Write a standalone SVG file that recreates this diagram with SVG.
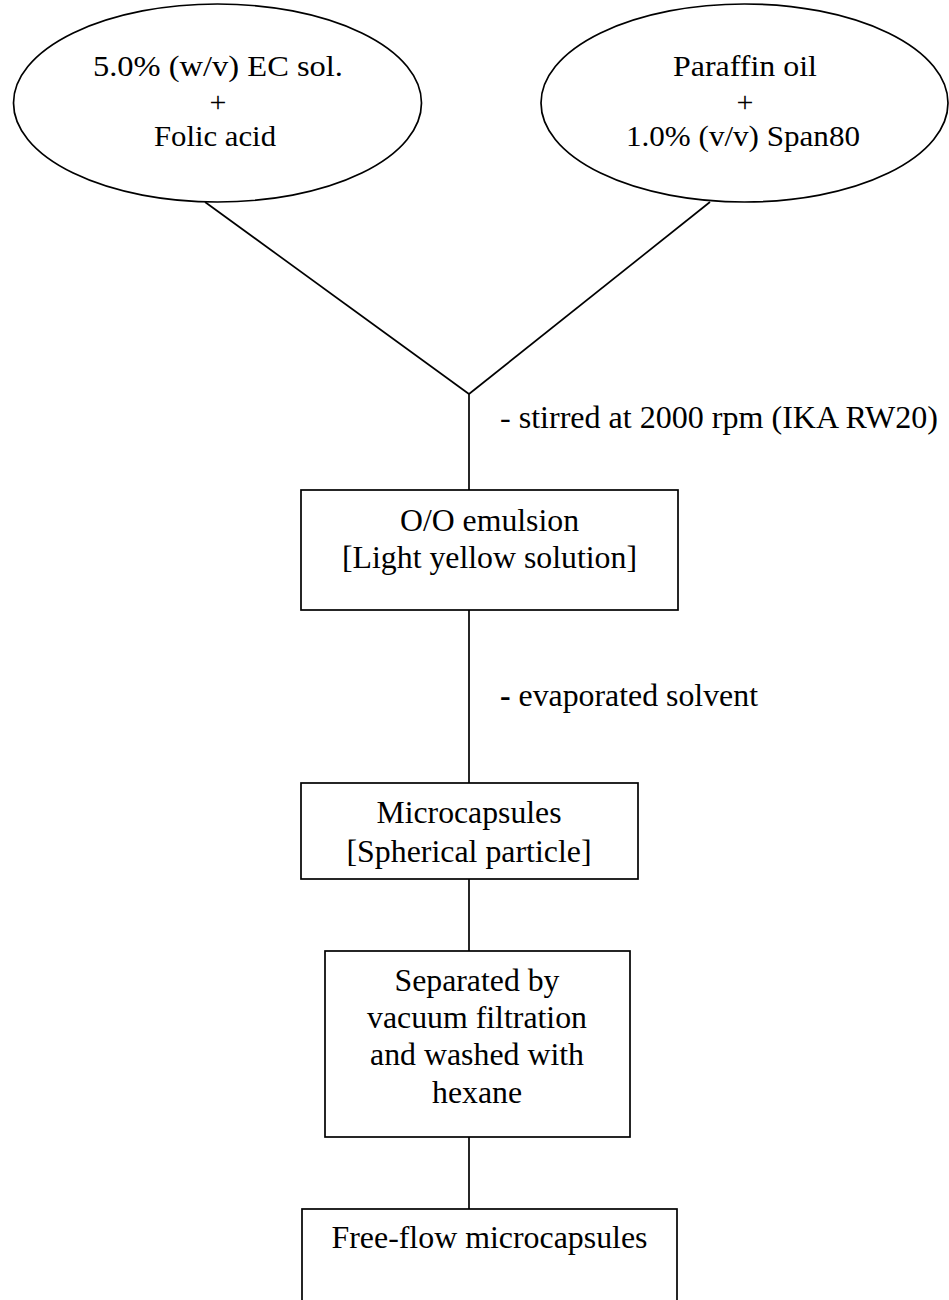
<svg xmlns="http://www.w3.org/2000/svg" width="949" height="1300" viewBox="0 0 949 1300">
<style>
.shape{fill:#fff;stroke:#000;stroke-width:1.7}
.conn line{stroke:#000;stroke-width:1.7}
.t{font-family:"Liberation Serif","Times New Roman",serif;font-size:32px;fill:#000}
.e{font-size:30px}
.c{text-anchor:middle}
</style>
<rect width="949" height="1300" fill="#fff"/>
<g id="connectors" class="conn">
<line x1="205" y1="202" x2="469" y2="394"/>
<line x1="710" y1="202" x2="469" y2="394"/>
<line x1="469" y1="394" x2="469" y2="490"/>
<line x1="469" y1="610" x2="469" y2="783"/>
<line x1="469" y1="879" x2="469" y2="951"/>
<line x1="469" y1="1137" x2="469" y2="1209"/>
</g>
<g id="label-stirred">
<text class="t" x="500" y="428" textLength="438" lengthAdjust="spacingAndGlyphs">- stirred at 2000 rpm (IKA RW20)</text>
</g>
<g id="label-evaporated">
<text class="t" x="500" y="706" textLength="258" lengthAdjust="spacingAndGlyphs"><tspan font-weight="bold">-</tspan> evaporated solvent</text>
</g>
<g id="node-ec">
<ellipse class="shape" cx="217.5" cy="103" rx="204" ry="99"/>
<text class="t e c" x="218" y="76" textLength="250" lengthAdjust="spacingAndGlyphs">5.0% (w/v) EC sol.</text>
<text class="t e c" x="218" y="112">+</text>
<text class="t e c" x="215" y="146" textLength="122" lengthAdjust="spacingAndGlyphs">Folic acid</text>
</g>
<g id="node-paraffin">
<ellipse class="shape" cx="744.5" cy="103" rx="203.5" ry="99"/>
<text class="t e c" x="745" y="76" textLength="144" lengthAdjust="spacingAndGlyphs">Paraffin oil</text>
<text class="t e c" x="745" y="112">+</text>
<text class="t e c" x="743" y="146" textLength="234" lengthAdjust="spacingAndGlyphs">1.0% (v/v) Span80</text>
</g>
<g id="node-emulsion">
<rect class="shape" x="301" y="490" width="377" height="120"/>
<text class="t c" x="489.5" y="531" textLength="179" lengthAdjust="spacingAndGlyphs">O/O emulsion</text>
<text class="t c" x="489.5" y="568" textLength="295" lengthAdjust="spacingAndGlyphs">[Light yellow solution]</text>
</g>
<g id="node-microcapsules">
<rect class="shape" x="301" y="783" width="337" height="96"/>
<text class="t c" x="469" y="823" textLength="185" lengthAdjust="spacingAndGlyphs">Microcapsules</text>
<text class="t c" x="469" y="862" textLength="245" lengthAdjust="spacingAndGlyphs">[Spherical particle]</text>
</g>
<g id="node-separated">
<rect class="shape" x="325" y="951" width="305" height="186"/>
<text class="t c" x="477" y="991" textLength="165" lengthAdjust="spacingAndGlyphs">Separated by</text>
<text class="t c" x="477" y="1028" textLength="220" lengthAdjust="spacingAndGlyphs">vacuum filtration</text>
<text class="t c" x="477" y="1065" textLength="214" lengthAdjust="spacingAndGlyphs">and washed with</text>
<text class="t c" x="477" y="1103" textLength="90" lengthAdjust="spacingAndGlyphs">hexane</text>
</g>
<g id="node-freeflow">
<rect class="shape" x="302" y="1209" width="375" height="120"/>
<text class="t c" x="489.5" y="1248" textLength="316" lengthAdjust="spacingAndGlyphs">Free-flow microcapsules</text>
</g>
</svg>
